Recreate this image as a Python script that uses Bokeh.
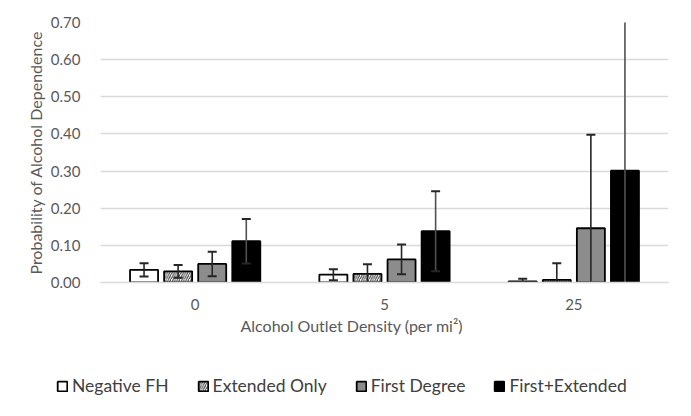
from bokeh.plotting import figure
from bokeh.models import (FactorRange, Range1d, Legend, LegendItem, Title,
                          ColumnDataSource, NumeralTickFormatter, FixedTicker)
from bokeh.transform import dodge
from bokeh.embed import file_html
from bokeh.resources import INLINE

# ---- data ----
densities = ["0", "5", "25"]
series_names = ["Negative FH", "Extended Only", "First Degree", "First+Extended"]
neg_fh = [0.034, 0.021, 0.003]
neg_fh_err = [0.018, 0.015, 0.007]
ext_only = [0.030, 0.023, 0.007]
ext_only_err = [0.017, 0.026, 0.045]
first_deg = [0.050, 0.062, 0.146]
first_deg_err = [0.033, 0.040, 0.252]
first_ext = [0.111, 0.138, 0.301]
first_ext_err = [0.060, 0.108, 0.450]
y_ticks = [0.0, 0.1, 0.2, 0.3, 0.4, 0.5, 0.6, 0.7]

FONT = "Lato"
TXT = "#595959"

p = figure(x_range=FactorRange(*densities), y_range=Range1d(0, 0.7),
           width=691, height=345, output_backend="svg", toolbar_location=None,
           min_border_left=100, min_border_right=23, min_border_top=22,
           min_border_bottom=63)
p.outline_line_color = None
p.background_fill_color = "white"
p.border_fill_color = "white"

styles = [
    dict(fill_color="white", hatch_pattern=None),
    dict(fill_color="white", hatch_pattern="/", hatch_color="#404040",
         hatch_scale=4.5, hatch_weight=1.1),
    dict(fill_color="#8c8c8c", hatch_pattern=None),
    dict(fill_color="black", hatch_pattern=None),
]
offsets = [-0.27, -0.09, 0.09, 0.27]
vals = [neg_fh, ext_only, first_deg, first_ext]
errs = [neg_fh_err, ext_only_err, first_deg_err, first_ext_err]
err_colors = ["#262626", "#262626", "#262626", "#505050"]


def bar_kw(st):
    kw = dict(fill_color=st["fill_color"], line_color="black", line_width=1.8)
    if st["hatch_pattern"]:
        kw.update(hatch_pattern=st["hatch_pattern"], hatch_color=st["hatch_color"],
                  hatch_scale=st["hatch_scale"], hatch_weight=st["hatch_weight"])
    return kw


sources = []
for name, v, e, off, st, ec in zip(series_names, vals, errs, offsets, styles, err_colors):
    src = ColumnDataSource(dict(
        x=densities, top=v,
        upper=[a + b for a, b in zip(v, e)],
        lower=[a - b for a, b in zip(v, e)]))
    sources.append(src)
    xd = dodge("x", off, range=p.x_range)
    p.vbar(x=xd, top="top", bottom=0, width=0.148, source=src, **bar_kw(st))
    p.segment(x0=xd, y0="lower", x1=xd, y1="upper", source=src,
              line_color=ec, line_width=1.6)
    p.scatter(x=xd, y="upper", marker="dash", size=9, line_width=2,
              line_color="#262626", source=src)
    p.scatter(x=xd, y="lower", marker="dash", size=9, line_width=2,
              line_color="#262626", source=src)

# grid / axes
p.xgrid.grid_line_color = None
p.ygrid.grid_line_color = "#d9d9d9"
p.ygrid.grid_line_width = 1.3
p.yaxis.ticker = FixedTicker(ticks=y_ticks)
p.yaxis.formatter = NumeralTickFormatter(format="0.00")
p.yaxis.axis_line_color = None
p.yaxis.major_tick_line_color = None
p.yaxis.minor_tick_line_color = None
p.yaxis.major_label_standoff = 14
p.yaxis.major_label_text_font = FONT
p.yaxis.major_label_text_font_size = "15px"
p.yaxis.major_label_text_color = TXT
p.yaxis.axis_label = "Probability of Alcohol Dependence"
p.yaxis.axis_label_text_font = FONT
p.yaxis.axis_label_text_font_size = "16px"
p.yaxis.axis_label_text_font_style = "normal"
p.yaxis.axis_label_text_color = TXT
p.yaxis.axis_label_standoff = 3

p.xaxis.axis_line_color = "#d9d9d9"
p.xaxis.axis_line_width = 1.3
p.xaxis.major_tick_line_color = None
p.xaxis.minor_tick_line_color = None
p.xaxis.major_label_standoff = 10
p.xaxis.major_label_text_font = FONT
p.xaxis.major_label_text_font_size = "15px"
p.xaxis.major_label_text_color = TXT

xt = Title(text="Alcohol Outlet Density (per mi²)", align="left", offset=140,
           text_font=FONT, text_font_size="16px", text_font_style="normal",
           text_color=TXT, standoff=2)
p.add_layout(xt, "below")

# ---- legend strip below the chart (proxy bars are shifted far out of view) ----
lg = figure(width=691, height=71, x_range=FactorRange(*densities),
            y_range=Range1d(10, 11), x_axis_location=None, y_axis_location=None,
            output_backend="svg", toolbar_location=None,
            min_border_left=0, min_border_right=0, min_border_top=0,
            min_border_bottom=0)
lg.grid.visible = False
lg.outline_line_color = None
lg.background_fill_color = "white"
lg.border_fill_color = "white"

items = []
for name, st, src in zip(series_names, styles, sources):
    r = lg.vbar(x=dodge("x", 100, range=lg.x_range), top="top", bottom=0,
                width=0.1, source=src, **bar_kw(st))
    items.append(LegendItem(label=name, renderers=[r]))

legend = Legend(items=items, orientation="horizontal", location=(56, 20),
                glyph_width=12, glyph_height=12, label_standoff=4, spacing=28,
                label_text_font=FONT, label_text_font_size="17.5px",
                label_text_color="#404040", border_line_color=None,
                background_fill_alpha=0, padding=4, margin=0)
lg.add_layout(legend, "center")

open("out.html", "w").write(file_html([p, lg], INLINE))
